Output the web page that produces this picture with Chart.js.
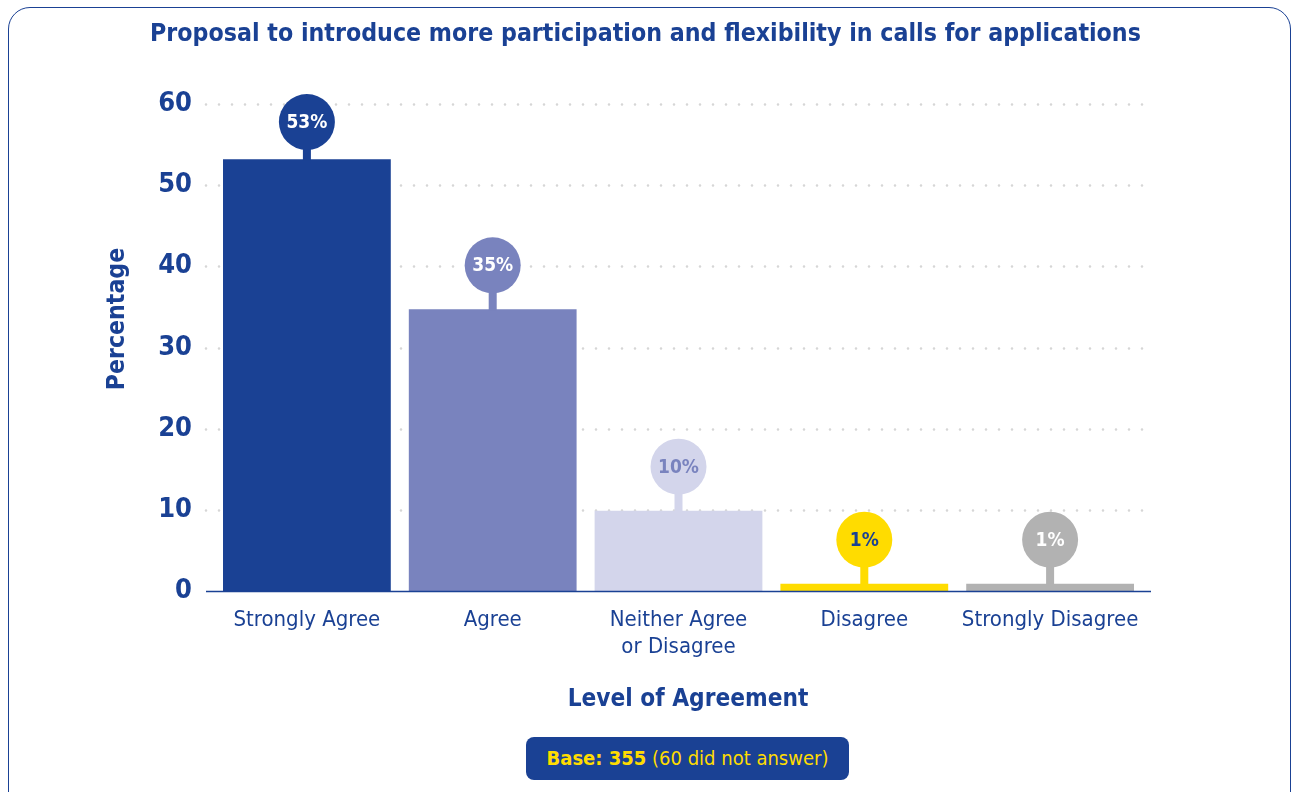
<!DOCTYPE html>
<html>
<head>
<meta charset="utf-8">
<script src="https://cdn.jsdelivr.net/npm/chart.js@4/dist/chart.umd.min.js"></script>
<style>
  html, body { margin: 0; padding: 0; background: #fff; }
  #wrap { position: relative; width: 1291px; height: 792px; overflow: hidden; }
  #frame { position: absolute; left: 8px; top: 7px; width: 1283px; height: 840px; box-sizing: border-box;
           border: 1.5px solid #1a4194; border-radius: 22px; }
  #c { position: absolute; left: 0; top: 0; }
  #base { position: absolute; left: 526px; top: 737px; width: 323px; height: 43px; border-radius: 8px;
          background: #1a4194; color: #ffdc00; font-family: "DejaVu Sans Condensed", "Liberation Sans Narrow", sans-serif;
          font-size: 20px; line-height: 43px; text-align: center; white-space: nowrap; }
  #base b { font-weight: bold; }
</style>
</head>
<body>
<div id="wrap">
  <div id="frame"></div>
  <canvas id="c" width="1291" height="792"></canvas>
  <div id="base"><b>Base: 355</b> (60 did not answer)</div>
</div>
<script>
const categories = [["Strongly Agree"], ["Agree"], ["Neither Agree", "or Disagree"], ["Disagree"], ["Strongly Disagree"]];
const values = [53.2, 34.7, 9.9, 0.9, 0.9];
const valueLabels = ["53%", "35%", "10%", "1%", "1%"];
const barColors = ["#1a4194", "#7983be", "#d3d5eb", "#ffdc00", "#b2b2b2"];
const pinTextColors = ["#ffffff", "#ffffff", "#7983be", "#1a4194", "#ffffff"];
const yTicks = [0, 10, 20, 30, 40, 50, 60];
const titleText = "Proposal to introduce more participation and flexibility in calls for applications";
const yTitle = "Percentage";
const xTitle = "Level of Agreement";

const FONT = '"DejaVu Sans Condensed", "Liberation Sans Narrow", sans-serif';
const BLUE = "#1a4194";

const decor = {
  id: 'decor',
  beforeDatasetsDraw(chart) {
    const {ctx, chartArea, scales: {y}} = chart;
    ctx.save();
    ctx.strokeStyle = '#d6d6d6';
    ctx.lineWidth = 2.6;
    ctx.lineCap = 'round';
    ctx.setLineDash([0, 13]);
    yTicks.forEach(t => {
      if (t === 0) return;
      const py = Math.round(y.getPixelForValue(t)) + 0.5;
      ctx.beginPath();
      ctx.moveTo(chartArea.left - 8, py);
      ctx.lineTo(chartArea.right + 8, py);
      ctx.stroke();
    });
    ctx.restore();
    // axis titles
    ctx.save();
    ctx.fillStyle = BLUE;
    ctx.textAlign = 'center';
    ctx.textBaseline = 'middle';
    ctx.font = 'bold 24.2px ' + FONT;
    ctx.fillText(xTitle, 688, 700);
    ctx.translate(118, 319);
    ctx.rotate(-Math.PI / 2);
    ctx.font = 'bold 24.6px ' + FONT;
    ctx.fillText(yTitle, 0, 0);
    ctx.restore();
  },
  afterDatasetsDraw(chart) {
    const {ctx, chartArea, scales: {y}} = chart;
    const meta = chart.getDatasetMeta(0);
    ctx.save();
    // axis line
    const py = y.getPixelForValue(0);
    ctx.strokeStyle = BLUE;
    ctx.lineWidth = 1.6;
    ctx.beginPath();
    ctx.moveTo(chartArea.left - 8, py + 0.5);
    ctx.lineTo(chartArea.right + 8, py + 0.5);
    ctx.stroke();
    // pins
    meta.data.forEach((bar, i) => {
      const top = bar.y;
      const cy = Math.max(top - 44, chartArea.top + 18);
      ctx.fillStyle = barColors[i];
      ctx.fillRect(bar.x - 4, cy, 8, top - cy + 1);
      ctx.beginPath();
      ctx.arc(bar.x, cy, 28, 0, Math.PI * 2);
      ctx.fill();
      ctx.fillStyle = pinTextColors[i];
      ctx.font = 'bold 19px ' + FONT;
      ctx.textAlign = 'center';
      ctx.textBaseline = 'middle';
      ctx.fillText(valueLabels[i], bar.x, cy + 1);
    });
    ctx.restore();
  }
};

new Chart(document.getElementById('c'), {
  type: 'bar',
  data: {
    labels: categories,
    datasets: [{
      data: values,
      backgroundColor: barColors,
      borderWidth: 0,
      barPercentage: 0.903,
      categoryPercentage: 1.0
    }]
  },
  options: {
    responsive: false,
    animation: false,
    devicePixelRatio: 1,
    layout: { padding: 0 },
    plugins: {
      legend: { display: false },
      tooltip: { enabled: false },
      title: {
        display: true,
        text: titleText,
        color: BLUE,
        font: { family: FONT, size: 24.7, weight: 'bold', lineHeight: 1.2 },
        padding: { top: 20, bottom: 54.4 }
      }
    },
    scales: {
      x: {
        grid: { display: false, drawTicks: false },
        border: { display: false },
        ticks: {
          color: BLUE,
          font: { family: FONT, size: 22, lineHeight: 1.23 },
          padding: 15.5,
          maxRotation: 0,
          autoSkip: false
        },
        afterFit(scale) { scale.height = 201; }
      },
      y: {
        min: 0,
        max: 60,
        grid: { display: false, drawTicks: false },
        border: { display: false },
        afterBuildTicks(scale) { scale.ticks = yTicks.map(v => ({ value: v })); },
        ticks: {
          color: BLUE,
          font: { family: FONT, size: 27, weight: 'bold' },
          padding: 22
        },
        afterFit(scale) { scale.width = 214; }
      },
      yRight: {
        position: 'right',
        display: true,
        min: 0,
        max: 60,
        grid: { display: false, drawTicks: false },
        border: { display: false },
        ticks: { display: false },
        afterFit(scale) { scale.width = 148; }
      }
    }
  },
  plugins: [decor]
});
</script>
</body>
</html>
